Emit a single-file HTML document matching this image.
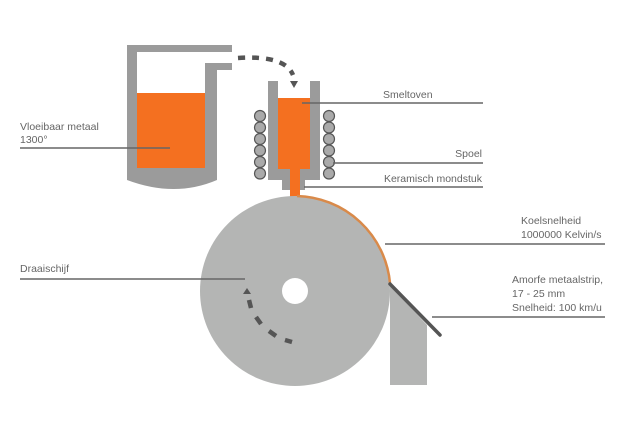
<!DOCTYPE html>
<html><head><meta charset="utf-8"><style>
body{margin:0;background:#fff}
svg{display:block}
text{font-family:"Liberation Sans",sans-serif;font-size:10.5px;fill:#666}
</style></head><body>
<svg width="644" height="447" viewBox="0 0 644 447">
<path d="M127 45 H232 V52 H137 V168 H205 V63 H232 V70 H217 V180 Q175 198 127 180 Z" fill="#9b9b9b"/>
<rect x="137" y="93" width="68" height="75" fill="#f47020"/>
<path d="M238 58 Q285 55 293 75" fill="none" stroke="#555" stroke-width="4.5" stroke-dasharray="7 7"/>
<path d="M290 81 L298 81 L294 88 Z" fill="#555"/>
<path d="M268 81 H278 V169 H310 V81 H320 V180 H305 V190 H282 V180 H268 Z" fill="#9b9b9b"/>
<rect x="278" y="98" width="32" height="71" fill="#f47020"/>
<rect x="290" y="169" width="10" height="30" fill="#f47020"/>
<g fill="#aaa" stroke="#555" stroke-width="1.2">
<circle cx="260" cy="116" r="5.5"/><circle cx="260" cy="127.5" r="5.5"/><circle cx="260" cy="139" r="5.5"/><circle cx="260" cy="150.5" r="5.5"/><circle cx="260" cy="162" r="5.5"/><circle cx="260" cy="173.5" r="5.5"/>
<circle cx="329" cy="116" r="5.5"/><circle cx="329" cy="127.5" r="5.5"/><circle cx="329" cy="139" r="5.5"/><circle cx="329" cy="150.5" r="5.5"/><circle cx="329" cy="162" r="5.5"/><circle cx="329" cy="173.5" r="5.5"/>
</g>
<path d="M390 285 L427 325 V385 H390 Z" fill="#b4b5b4"/>
<circle cx="295" cy="291" r="95" fill="#b4b5b4"/>
<circle cx="295" cy="291" r="13" fill="#fff"/>
<path d="M297 196 A96 96 0 0 1 390 283" fill="none" stroke="#d98a4a" stroke-width="2.5"/>
<path d="M390 284 L440 335" stroke="#555" stroke-width="3.5" stroke-linecap="round"/>
<g stroke="#555" stroke-width="4.5">
<line x1="249" y1="300" x2="251" y2="308"/>
<line x1="256" y1="317" x2="261" y2="324"/>
<line x1="269" y1="331" x2="276" y2="336"/>
<line x1="285" y1="340" x2="292" y2="342"/>
</g>
<path d="M243 294 L251 294 L247 288 Z" fill="#555"/>
<g stroke="#666" stroke-width="1.5">
<line x1="20" y1="148" x2="170" y2="148"/>
<line x1="20" y1="279" x2="245" y2="279"/>
<line x1="302" y1="103" x2="483" y2="103"/>
<line x1="333" y1="163" x2="483" y2="163"/>
<line x1="304" y1="187" x2="483" y2="187"/>
<line x1="385" y1="244" x2="605" y2="244"/>
<line x1="432" y1="317" x2="605" y2="317"/>
</g>
<text x="20" y="130">Vloeibaar metaal</text>
<text x="20" y="143">1300°</text>
<text x="20" y="272">Draaischijf</text>
<text x="383" y="98">Smeltoven</text>
<text x="482" y="157" text-anchor="end">Spoel</text>
<text x="482" y="182" text-anchor="end">Keramisch mondstuk</text>
<text x="521" y="224">Koelsnelheid</text>
<text x="521" y="238">1000000 Kelvin/s</text>
<text x="512" y="283">Amorfe metaalstrip,</text>
<text x="512" y="297">17 - 25 mm</text>
<text x="512" y="311">Snelheid: 100 km/u</text>
</svg>
</body></html>
